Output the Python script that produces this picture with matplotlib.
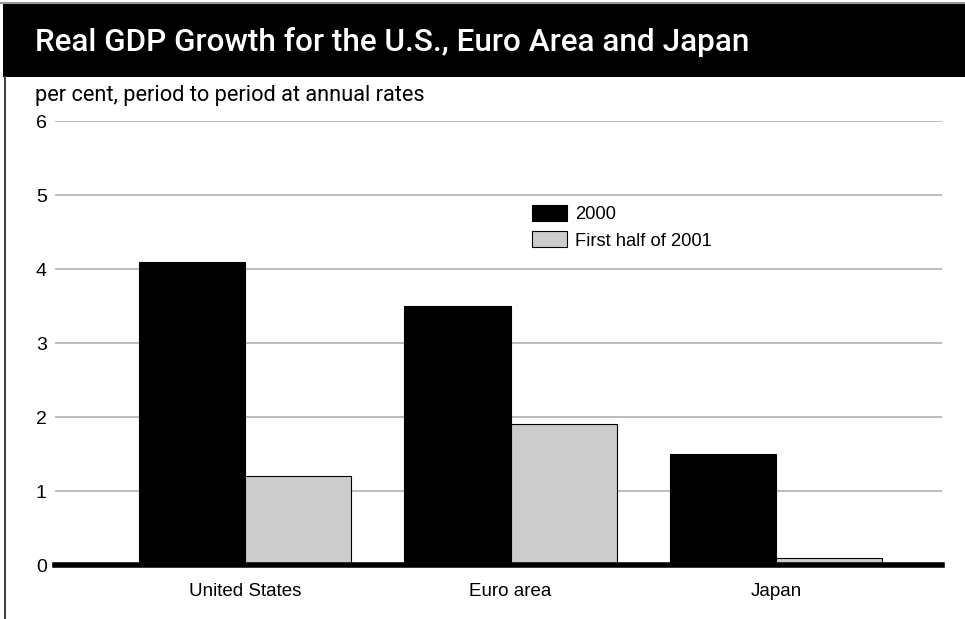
import matplotlib
matplotlib.use("Agg")
import matplotlib.pyplot as plt
import numpy as np
from matplotlib.patches import Rectangle
from matplotlib.lines import Line2D

categories = ["United States", "Euro area", "Japan"]
series_names = ["2000", "First half of 2001"]
growth_2000 = [4.1, 3.5, 1.5]
growth_2001h1 = [1.2, 1.9, 0.1]
y_ticks = [0, 1, 2, 3, 4, 5, 6]

title = "Real GDP Growth for the U.S., Euro Area and Japan"
subtitle = "per cent, period to period at annual rates"

W, H = 965, 619
fig = plt.figure(figsize=(W / 100, H / 100), dpi=100)
fig.patch.set_facecolor("white")

narrow = ["Roboto", "DejaVu Sans"]
regular = ["Liberation Sans", "DejaVu Sans"]

# Title banner and frame
fig.add_artist(Rectangle((3 / W, 1 - 77 / H), 1, 73 / H, transform=fig.transFigure,
                         facecolor="black", edgecolor="none", zorder=0))
fig.add_artist(Line2D([0, 1], [1 - 3 / H, 1 - 3 / H], transform=fig.transFigure,
                      color="#999999", lw=1.5))
fig.add_artist(Line2D([4.5 / W, 4.5 / W], [0, 1 - 77 / H], transform=fig.transFigure,
                      color="#444444", lw=1.5))
fig.text(35 / W, 1 - 42 / H, title, color="white", fontsize=22.7, fontweight="medium",
         family=narrow, va="center", ha="left")
fig.text(35 / W, 1 - 96 / H, subtitle, color="black", fontsize=15.7,
         family=narrow, va="center", ha="left")

ax = fig.add_axes([55 / W, 1 - 565 / H, (942 - 55) / W, (565 - 121) / H])
x = np.arange(len(categories))
w = 0.4
ax.bar(x - w / 2, growth_2000, w, color="black", edgecolor="black", lw=0.8,
       label=series_names[0], zorder=3)
ax.bar(x + w / 2, growth_2001h1, w, color="#cccccc", edgecolor="black", lw=0.8,
       label=series_names[1], zorder=3)

ax.set_xlim(-0.716, 2.625)
ax.set_ylim(0, 6)
ax.set_yticks(y_ticks)
ax.set_yticklabels([str(t) for t in y_ticks], family=regular, fontsize=14)
ax.set_xticks(x)
ax.set_xticklabels(categories, family=regular, fontsize=13.5)
ax.tick_params(axis="both", length=0)
ax.tick_params(axis="y", pad=6)
ax.tick_params(axis="x", pad=13)
for s in ax.spines.values():
    s.set_visible(False)
ax.yaxis.grid(True, color="#b0b0b0", lw=1.2, zorder=0)
ax.set_axisbelow(True)
ax.axhline(0, color="black", lw=4, zorder=4, clip_on=False)

leg = ax.legend(loc="upper left", bbox_to_anchor=((532 - 55) / (942 - 55), (565 - 205) / (565 - 121)),
                frameon=False, prop={"family": regular, "size": 13.2},
                handlelength=1.9, handleheight=0.95, handletextpad=0.45,
                labelspacing=0.45, borderaxespad=0, borderpad=0)

fig.savefig("out.png", dpi=100)
